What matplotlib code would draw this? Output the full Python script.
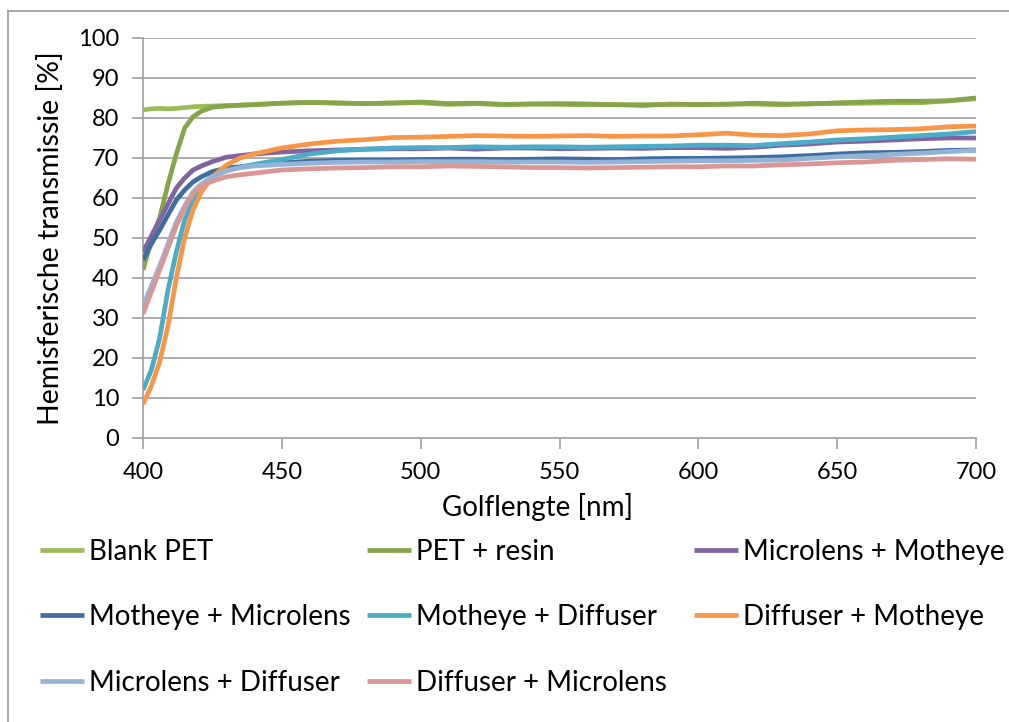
import matplotlib
matplotlib.use("Agg")
import matplotlib.pyplot as plt
from matplotlib.lines import Line2D

plt.rcParams['font.family'] = ['Lato', 'DejaVu Sans']

# Wavelength grid [nm]
wavelength = [400, 403, 406, 409, 412, 415, 418, 421, 425, 430, 435, 440,
              450, 460, 470, 480, 490, 500, 510, 520, 530, 540, 550, 560,
              570, 580, 590, 600, 610, 620, 630, 640, 650, 660, 670, 680,
              690, 700]

# Hemispherical transmission [%]
blank_pet = [82.0, 82.3, 82.4, 82.3, 82.4, 82.6, 82.8, 82.9, 83.0, 83.1, 83.2, 83.4,
             83.7, 83.9, 83.8, 83.6, 83.8, 83.8, 83.4, 83.6, 83.3, 83.5, 83.4, 83.3,
             83.4, 83.1, 83.5, 83.3, 83.5, 83.5, 83.3, 83.6, 83.6, 83.7, 83.8, 83.8,
             84.3, 84.8]
pet_resin = [42.0, 49.5, 55.0, 63.5, 71.0, 77.5, 80.3, 81.7, 82.7, 83.0, 83.2, 83.3,
             83.7, 83.9, 83.7, 83.6, 83.7, 84.0, 83.6, 83.7, 83.4, 83.5, 83.6, 83.5,
             83.3, 83.3, 83.4, 83.4, 83.4, 83.7, 83.5, 83.5, 83.8, 84.0, 84.2, 84.2,
             84.3, 85.0]
microlens_motheye = [46.5, 50.5, 54.5, 58.5, 62.5, 65.0, 67.0, 68.0, 69.1, 70.2, 70.6, 71.0,
                     71.5, 71.8, 72.0, 72.2, 72.3, 72.3, 72.5, 72.2, 72.5, 72.5, 72.3, 72.4,
                     72.5, 72.4, 72.6, 72.6, 72.4, 72.7, 73.2, 73.5, 74.0, 74.2, 74.5, 74.8,
                     75.0, 75.0]
motheye_microlens = [44.5, 48.5, 52.0, 55.8, 59.5, 62.0, 64.0, 65.3, 66.6, 67.5, 67.8, 68.2,
                     68.8, 69.2, 69.4, 69.5, 69.5, 69.6, 69.7, 69.7, 69.6, 69.7, 69.8, 69.7,
                     69.6, 69.8, 69.9, 69.9, 70.0, 70.1, 70.3, 70.6, 71.0, 71.3, 71.4, 71.6,
                     71.9, 72.0]
motheye_diffuser = [12.0, 17.0, 25.0, 37.0, 46.5, 54.5, 59.5, 62.5, 65.3, 66.8, 67.7, 68.4,
                    69.6, 71.0, 71.8, 72.2, 72.5, 72.6, 72.6, 72.8, 72.7, 72.8, 72.8, 72.7,
                    72.8, 72.9, 73.0, 73.2, 73.2, 73.1, 73.6, 74.0, 74.5, 74.8, 75.2, 75.6,
                    76.0, 76.6]
diffuser_motheye = [8.5, 13.0, 19.0, 28.0, 40.0, 50.0, 57.0, 61.5, 65.3, 68.2, 70.0, 71.0,
                    72.5, 73.5, 74.2, 74.6, 75.1, 75.2, 75.4, 75.6, 75.5, 75.4, 75.5, 75.6,
                    75.4, 75.5, 75.5, 75.8, 76.2, 75.7, 75.6, 76.0, 76.8, 77.0, 77.1, 77.3,
                    77.8, 78.0]
microlens_diffuser = [33.0, 38.0, 43.0, 48.5, 54.0, 58.0, 61.5, 63.5, 65.3, 66.8, 67.6, 68.0,
                      68.4, 68.7, 68.9, 69.0, 69.0, 69.1, 69.1, 69.1, 69.0, 69.0, 69.0, 68.9,
                      69.0, 69.1, 69.2, 69.3, 69.3, 69.4, 69.5, 69.9, 70.3, 70.6, 70.9, 71.2,
                      71.6, 71.9]
diffuser_microlens = [31.0, 36.5, 42.0, 47.5, 53.0, 57.5, 61.0, 63.0, 64.2, 65.3, 65.8, 66.2,
                      67.0, 67.3, 67.5, 67.6, 67.8, 67.8, 68.0, 67.9, 67.8, 67.6, 67.6, 67.5,
                      67.6, 67.7, 67.8, 67.8, 68.0, 68.0, 68.3, 68.5, 68.8, 69.0, 69.4, 69.6,
                      69.8, 69.7]

labels = ["Blank PET", "PET + resin", "Microlens + Motheye",
          "Motheye + Microlens", "Motheye + Diffuser", "Diffuser + Motheye",
          "Microlens + Diffuser", "Diffuser + Microlens"]
series = [blank_pet, pet_resin, microlens_motheye, motheye_microlens,
          motheye_diffuser, diffuser_motheye, microlens_diffuser, diffuser_microlens]
colors = ["#9BBB59", "#86A44A", "#8064A2", "#3E6EA0",
          "#4BACC6", "#F79646", "#95B3D7", "#D99694"]

W, H = 1009, 722
fig = plt.figure(figsize=(W / 100, H / 100), dpi=100)
ax = fig.add_axes([143 / W, 1 - 438 / H, (976 - 143) / W, (438 - 38) / H])

grid_c = "#A6A6A6"
for y in range(10, 101, 10):
    ax.axhline(y, color=grid_c, lw=1.3, zorder=1)

lines = []
for vals, lab, c in zip(series, labels, colors):
    ln, = ax.plot(wavelength, vals, color=c, lw=3.4, label=lab, zorder=3,
                  solid_capstyle='butt', solid_joinstyle='round')
    lines.append(ln)

ax.set_xlim(400, 700)
ax.set_ylim(0, 100)
ax.set_xticks(range(400, 701, 50))
ax.set_yticks(range(0, 101, 10))
for s in ["top", "right"]:
    ax.spines[s].set_visible(False)
for s in ["left", "bottom"]:
    ax.spines[s].set_color(grid_c)
    ax.spines[s].set_linewidth(1.3)
ax.tick_params(axis='both', direction='out', length=8, width=1.3, color=grid_c,
               labelsize=17, labelcolor='black')
ax.tick_params(axis='x', pad=9)
ax.tick_params(axis='y', pad=9)

fig.text(538 / W, 1 - 507 / H, "Golflengte [nm]", ha='center', va='center', fontsize=20)
fig.text(51 / W, 1 - 238 / H, "Hemisferische transmissie [%]", ha='center', va='center',
         rotation=90, fontsize=20.5)

# Chart border
fig.add_artist(Line2D([8 / W, 1.0], [1 - 11 / H, 1 - 11 / H], color="#A0A0A0", lw=1.3))
fig.add_artist(Line2D([8 / W, 8 / W], [0, 1 - 11 / H], color="#A0A0A0", lw=1.3))

# Legend: 3 columns x 3 rows
col_x = [40, 367, 694]
row_y = [552, 617, 683]
for i, (ln, lab) in enumerate(zip(lines, labels)):
    cx = col_x[i % 3]
    cy = row_y[i // 3]
    fig.legend([ln], [lab], loc='center left', bbox_to_anchor=(cx / W, 1 - cy / H),
               frameon=False, fontsize=20, handlelength=1.6, handletextpad=0.15,
               borderpad=0, borderaxespad=0)

fig.savefig("out.png", dpi=100)
